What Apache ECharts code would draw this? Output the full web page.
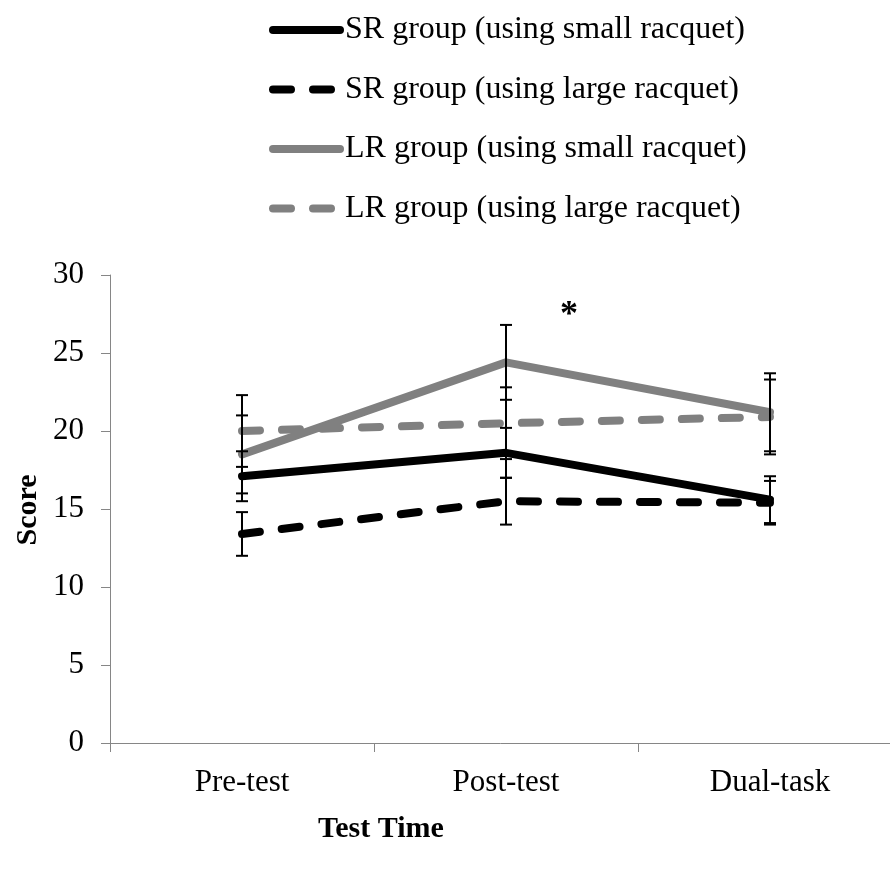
<!DOCTYPE html>
<html>
<head>
<meta charset="utf-8">
<script src="https://cdn.jsdelivr.net/npm/echarts@6/dist/echarts.min.js"></script>
<style>
html,body{margin:0;padding:0;background:#fff;}
#chart{width:890px;height:870px;}
</style>
</head>
<body>
<div id="chart"></div>
<script>
// ---- data ----
var categories = ['Pre-test', 'Post-test', 'Dual-task'];
var seriesNames = [
  'SR group (using small racquet)',
  'SR group (using large racquet)',
  'LR group (using small racquet)',
  'LR group (using large racquet)'
];
var srSmall = [17.1, 18.6, 15.6];
var srSmallErr = [1.6, 1.6, 1.5];
var srLarge = [13.4, 15.5, 15.4];
var srLargeErr = [1.4, 1.5, 1.4];
var lrSmall = [18.5, 24.4, 21.2];
var lrSmallErr = [2.5, 2.4, 2.5];
var lrLarge = [20.0, 20.5, 20.9];
var lrLargeErr = [2.3, 2.3, 2.4];
var yTicks = [0, 5, 10, 15, 20, 25, 30];
var annotation = '*';

var FONT = '"Liberation Serif", "Times New Roman", serif';
var BLACK = '#000000';
var GRAY = '#808080';

var chart = echarts.init(document.getElementById('chart'), null, {renderer: 'canvas'});

function lineSeries(name, values, color, dashed) {
  return {
    name: name,
    type: 'line',
    data: values,
    symbol: 'none',
    showSymbol: false,
    z: 2,
    lineStyle: {
      color: color,
      width: 8,
      type: dashed ? [18, 22] : 'solid',
      cap: 'round',
      join: 'round'
    },
    itemStyle: {color: color},
    emphasis: {disabled: true}
  };
}

function errData(values, errs) {
  return values.map(function (v, i) { return [i, v - errs[i], v + errs[i]]; });
}

function errSeries(values, errs) {
  return {
    type: 'custom',
    z: 5,
    silent: true,
    data: errData(values, errs),
    encode: {x: 0, y: [1, 2]},
    renderItem: function (params, api) {
      var x = api.value(0);
      var lo = api.coord([x, api.value(1)]);
      var hi = api.coord([x, api.value(2)]);
      var hw = 6;
      var st = {stroke: BLACK, lineWidth: 2, fill: null};
      return {
        type: 'group',
        children: [
          {type: 'line', shape: {x1: lo[0], y1: lo[1], x2: hi[0], y2: hi[1]}, style: st},
          {type: 'line', shape: {x1: lo[0] - hw, y1: lo[1], x2: lo[0] + hw, y2: lo[1]}, style: st},
          {type: 'line', shape: {x1: hi[0] - hw, y1: hi[1], x2: hi[0] + hw, y2: hi[1]}, style: st}
        ]
      };
    }
  };
}

var option = {
  backgroundColor: '#ffffff',
  animation: false,
  grid: {
    left: 110,
    top: 275,
    width: 792,
    height: 468,
    containLabel: false,
    outerBoundsMode: 'none'
  },
  legend: {
    orient: 'vertical',
    left: 269,
    top: 14,
    padding: 0,
    itemWidth: 67,
    itemHeight: 14,
    itemGap: 27.5,
    data: seriesNames,
    textStyle: {
      fontFamily: FONT,
      fontSize: 32,
      color: BLACK,
      lineHeight: 32
    },
    lineStyle: {width: 8, cap: 'round'},
    itemStyle: {opacity: 0, borderWidth: 0},
    selectedMode: false
  },
  xAxis: {
    type: 'category',
    data: categories,
    boundaryGap: true,
    axisLine: {show: true, lineStyle: {color: '#868686', width: 1}},
    axisTick: {show: true, length: 9, alignWithLabel: false, lineStyle: {color: '#868686'}},
    axisLabel: {fontFamily: FONT, fontSize: 31, color: BLACK, margin: 24},
    splitLine: {show: false}
  },
  yAxis: {
    type: 'value',
    min: yTicks[0],
    max: yTicks[yTicks.length - 1],
    interval: yTicks[1] - yTicks[0],
    axisLine: {show: true, lineStyle: {color: '#868686', width: 1}},
    axisTick: {show: true, length: 9, lineStyle: {color: '#868686'}},
    axisLabel: {fontFamily: FONT, fontSize: 31, color: BLACK, margin: 26},
    splitLine: {show: false}
  },
  graphic: [
    {
      type: 'text',
      left: 380 - 62,
      top: 814,
      style: {text: 'Test Time', font: 'bold 30px ' + FONT, fill: BLACK}
    },
    {
      type: 'text',
      x: 28,
      y: 510,
      rotation: Math.PI / 2,
      style: {text: 'Score', font: 'bold 30px ' + FONT, fill: BLACK, align: 'center', verticalAlign: 'middle'}
    },
    {
      type: 'text',
      x: 569,
      y: 316,
      style: {text: annotation, font: 'bold 36px ' + FONT, fill: BLACK, align: 'center', verticalAlign: 'middle'}
    }
  ],
  series: [
    lineSeries(seriesNames[0], srSmall, BLACK, false),
    lineSeries(seriesNames[1], srLarge, BLACK, true),
    lineSeries(seriesNames[2], lrSmall, GRAY, false),
    lineSeries(seriesNames[3], lrLarge, GRAY, true),
    errSeries(srSmall, srSmallErr),
    errSeries(srLarge, srLargeErr),
    errSeries(lrSmall, lrSmallErr),
    errSeries(lrLarge, lrLargeErr)
  ]
};
chart.setOption(option);
</script>
</body>
</html>
